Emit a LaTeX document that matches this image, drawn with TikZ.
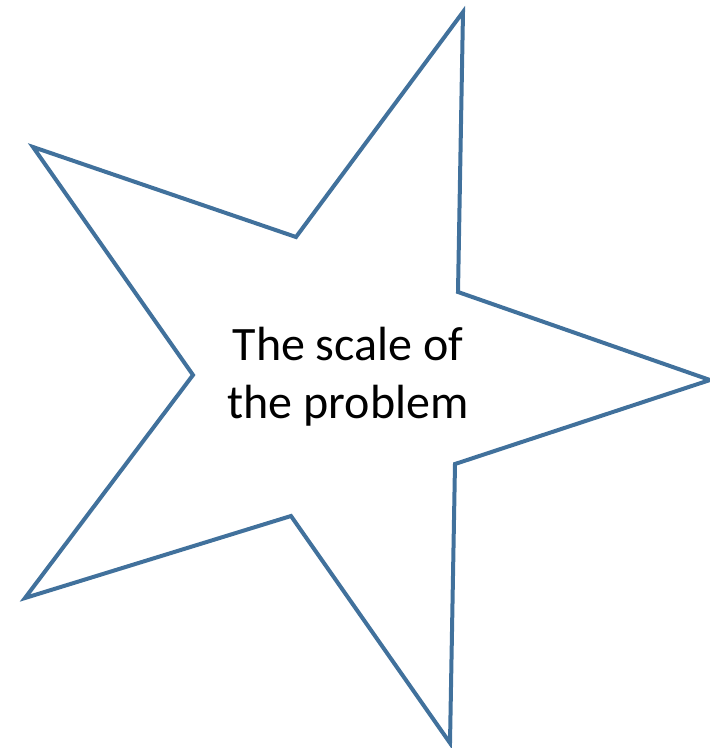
\documentclass[tikz,border=0pt]{standalone}
\usepackage{fontspec}
\setmainfont{Carlito}
\definecolor{starblue}{RGB}{65,113,156}
\begin{document}
\begin{tikzpicture}[x=1pt,y=-1pt,
  starline/.style={draw=starblue,line width=4pt,line join=miter},
  label/.style={font=\fontsize{48}{58}\selectfont,align=center,text=black}]
\useasboundingbox (0,0) rectangle (710,748);
\draw[starline] (463,12) -- (296,237) -- (33,147) -- (193,375) -- (25,598) -- (291,516) -- (450,743) -- (455,464) -- (710,380) -- (458,292) -- cycle;
\node[label] (t) at (348,377) {The scale of\\the problem};
\end{tikzpicture}
\end{document}
